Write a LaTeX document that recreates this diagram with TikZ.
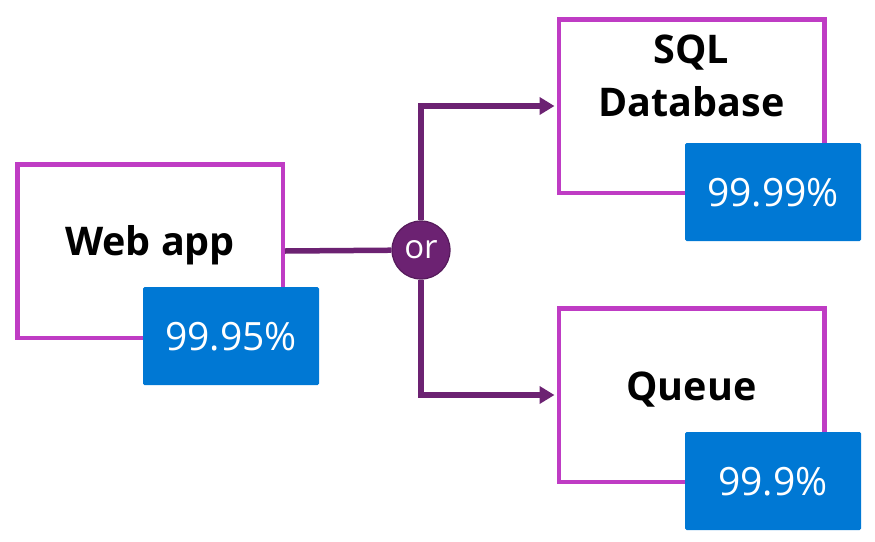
\documentclass[tikz,border=0pt]{standalone}
\usepackage{fontspec}
\setmainfont{Open Sans}
\usetikzlibrary{arrows.meta}

\definecolor{svcpink}{HTML}{BF3CC4}
\definecolor{orpurple}{HTML}{6C2272}
\definecolor{slablue}{HTML}{0078D4}

\tikzset{
    svcbox/.style={draw=svcpink, line width=4.5pt, fill=white, minimum width=265.5pt, minimum height=173.5pt, inner sep=0pt},
    svcname/.style={anchor=base, font=\fontsize{39.5}{53}\selectfont\bfseries, align=center},
    slabox/.style={fill=slablue, rounded corners=1.5pt, text=white, minimum width=176pt, minimum height=98pt, inner sep=0pt,
        font=\fontsize{39}{39}\selectfont, text height=28pt, text depth=0pt},
    orgate/.style={circle, draw=orpurple!80!black, line width=1.2pt, fill=orpurple, text=white, minimum size=58pt, inner sep=0pt,
        font=\fontsize{33}{33}\selectfont},
    link/.style={draw=orpurple, line width=5.5pt},
}

\begin{document}
\begin{tikzpicture}[x=1pt, y=-1pt]
    \useasboundingbox (0, 0) rectangle (875, 541);

    % services
    \node[svcbox] (web) at (150, 251) {};
    \node[svcbox] (sql) at (691.5, 106) {};
    \node[svcbox] (queue) at (691.5, 395) {};

    \node[svcname] (webname) at (150, 255) {Web app};
    \node[svcname] (sqlname) at (691.5, 116) {SQL\\Database};
    \node[svcname] (queuename) at (691.5, 400) {Queue};

    % SLA figures
    \node[slabox] (websla) at (231, 336) {99.95\%};
    \node[slabox] (sqlsla) at (773, 192) {99.99\%};
    \node[slabox] (queuesla) at (773, 481) {99.9\%};

    % or gate and links
    \node[orgate] (or) at (421, 250) {or};
    \draw[link] (web.east) -- (or);
    \draw[link, -{Triangle[length=15pt, width=17pt]}, shorten >=2pt] (or) |- (sql.west);
    \draw[link, -{Triangle[length=15pt, width=17pt]}, shorten >=2pt] (or) |- (queue.west);
\end{tikzpicture}
\end{document}
